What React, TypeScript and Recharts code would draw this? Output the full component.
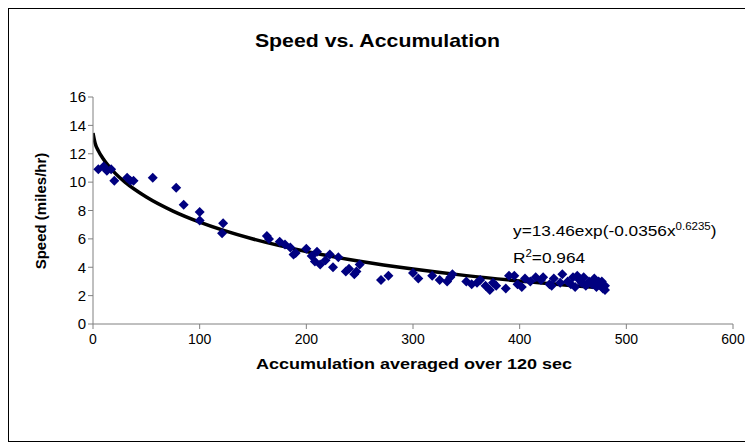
import React from 'react';
import { ComposedChart, Scatter, Line, XAxis, YAxis } from 'recharts';

const accumulation = [
  5, 10, 13, 17, 20, 32, 35, 38, 56, 78, 85, 100, 100, 122, 121, 163, 165, 175, 180, 185,
  190, 188, 200, 205, 208, 210, 213, 218, 222, 225, 230, 237, 240, 245, 247, 250, 270, 277,
  300, 305, 318, 325, 332, 335, 337, 350, 355, 360, 363, 368, 372, 375, 378, 387, 390, 395,
  398, 402, 405, 410, 415, 420, 422, 428, 430, 432, 438, 440, 445, 448, 450, 452, 454, 456,
  458, 460, 462, 465, 468, 470, 472, 474, 476, 478, 480, 480, 477,
];
const speed = [
  10.9, 11.1, 10.8, 10.9, 10.1, 10.3, 10.1, 10.1, 10.3, 9.6, 8.4, 7.9, 7.3, 7.1, 6.4, 6.2, 6.0, 5.8, 5.6, 5.4,
  5.0, 4.9, 5.3, 4.8, 4.4, 5.1, 4.2, 4.5, 4.9, 4.0, 4.7, 3.7, 3.9, 3.5, 3.7, 4.2, 3.1, 3.4,
  3.6, 3.2, 3.4, 3.1, 3.0, 3.3, 3.5, 3.0, 2.8, 2.9, 3.1, 2.7, 2.4, 2.9, 2.7, 2.5, 3.4, 3.4,
  2.8, 2.6, 3.2, 3.0, 3.3, 3.1, 3.3, 2.8, 2.7, 3.2, 2.9, 3.5, 3.0, 2.8, 3.3, 2.6, 3.4, 3.1,
  2.9, 3.3, 2.7, 3.0, 2.8, 3.2, 2.6, 3.0, 2.8, 2.5, 2.7, 2.4, 3.0,
];

// fitted curve
const fitX = [0, 2, 5, 10, 20, 30, 50, 75, 100, 150, 200, 250, 300, 350, 400, 450, 480];
const fitY = [13.46, 12.74, 12.21, 11.59, 10.69, 10.0, 8.95, 7.96, 7.18, 5.99, 5.11, 4.42, 3.87, 3.41, 3.03, 2.7, 2.53];

const xTicks = [0, 100, 200, 300, 400, 500, 600];
const yTicks = [0, 2, 4, 6, 8, 10, 12, 14, 16];

const points = accumulation.map((x, i) => ({ x, y: speed[i] }));
const fit = fitX.map((x, i) => ({ x, fit: fitY[i] }));

const Diamond = (props: any) => {
  const { cx, cy } = props;
  const r = 5;
  return <polygon points={`${cx},${cy - r} ${cx + r},${cy} ${cx},${cy + r} ${cx - r},${cy}`} fill="#000080" />;
};

const font = 'Arial, "Liberation Sans", sans-serif';

export default function App() {
  return (
    <div
      style={{
        position: 'relative',
        width: 737,
        height: 432,
        border: '1px solid #000',
        fontFamily: font,
        background: '#fff',
      }}
    >
      <div
        style={{
          position: 'absolute',
          left: 0,
          width: 737,
          top: 21,
          textAlign: 'center',
          fontSize: 19,
          fontWeight: 'bold',
          transform: 'scaleX(1.12)',
        }}
      >
        Speed vs. Accumulation
      </div>
      <ComposedChart width={737} height={432} margin={{ top: 88, right: 13, left: 24, bottom: 87 }}>
        <XAxis
          type="number"
          dataKey="x"
          domain={[0, 600]}
          ticks={xTicks}
          stroke="#808080"
          tick={{ fill: '#000', fontSize: 14, fontFamily: font, dy: 3 }}
          tickSize={5}
          allowDataOverflow
        />
        <YAxis
          type="number"
          domain={[0, 16]}
          ticks={yTicks}
          stroke="#808080"
          tick={{ fill: '#000', fontSize: 15, fontFamily: font }}
          tickSize={5}
          width={60}
        />
        <Scatter data={points} dataKey="y" shape={<Diamond />} isAnimationActive={false} />
        <Line
          data={fit}
          dataKey="fit"
          type="monotone"
          stroke="#000"
          strokeWidth={3.5}
          dot={false}
          isAnimationActive={false}
        />
      </ComposedChart>
      <div style={{ position: 'absolute', left: 31, top: 202, width: 0, height: 0 }}>
        <div
          style={{
            position: 'absolute',
            transform: 'translate(-50%, -50%) rotate(-90deg)',
            whiteSpace: 'nowrap',
            fontSize: 15,
            fontWeight: 'bold',
          }}
        >
          Speed (miles/hr)
        </div>
      </div>
      <div
        style={{
          position: 'absolute',
          left: 84,
          width: 642,
          top: 346,
          textAlign: 'center',
          fontSize: 15,
          fontWeight: 'bold',
          transform: 'scaleX(1.2)',
        }}
      >
        Accumulation averaged over 120 sec
      </div>
      <div
        style={{
          position: 'absolute',
          left: 504,
          top: 206,
          fontSize: 15,
          lineHeight: '23px',
          transform: 'scaleX(1.15)',
          transformOrigin: 'left top',
          whiteSpace: 'nowrap',
        }}
      >
        <div>
          y=13.46exp(-0.0356x<sup style={{ fontSize: 10 }}>0.6235</sup>)
        </div>
        <div>
          R<sup style={{ fontSize: 10 }}>2</sup>=0.964
        </div>
      </div>
    </div>
  );
}
